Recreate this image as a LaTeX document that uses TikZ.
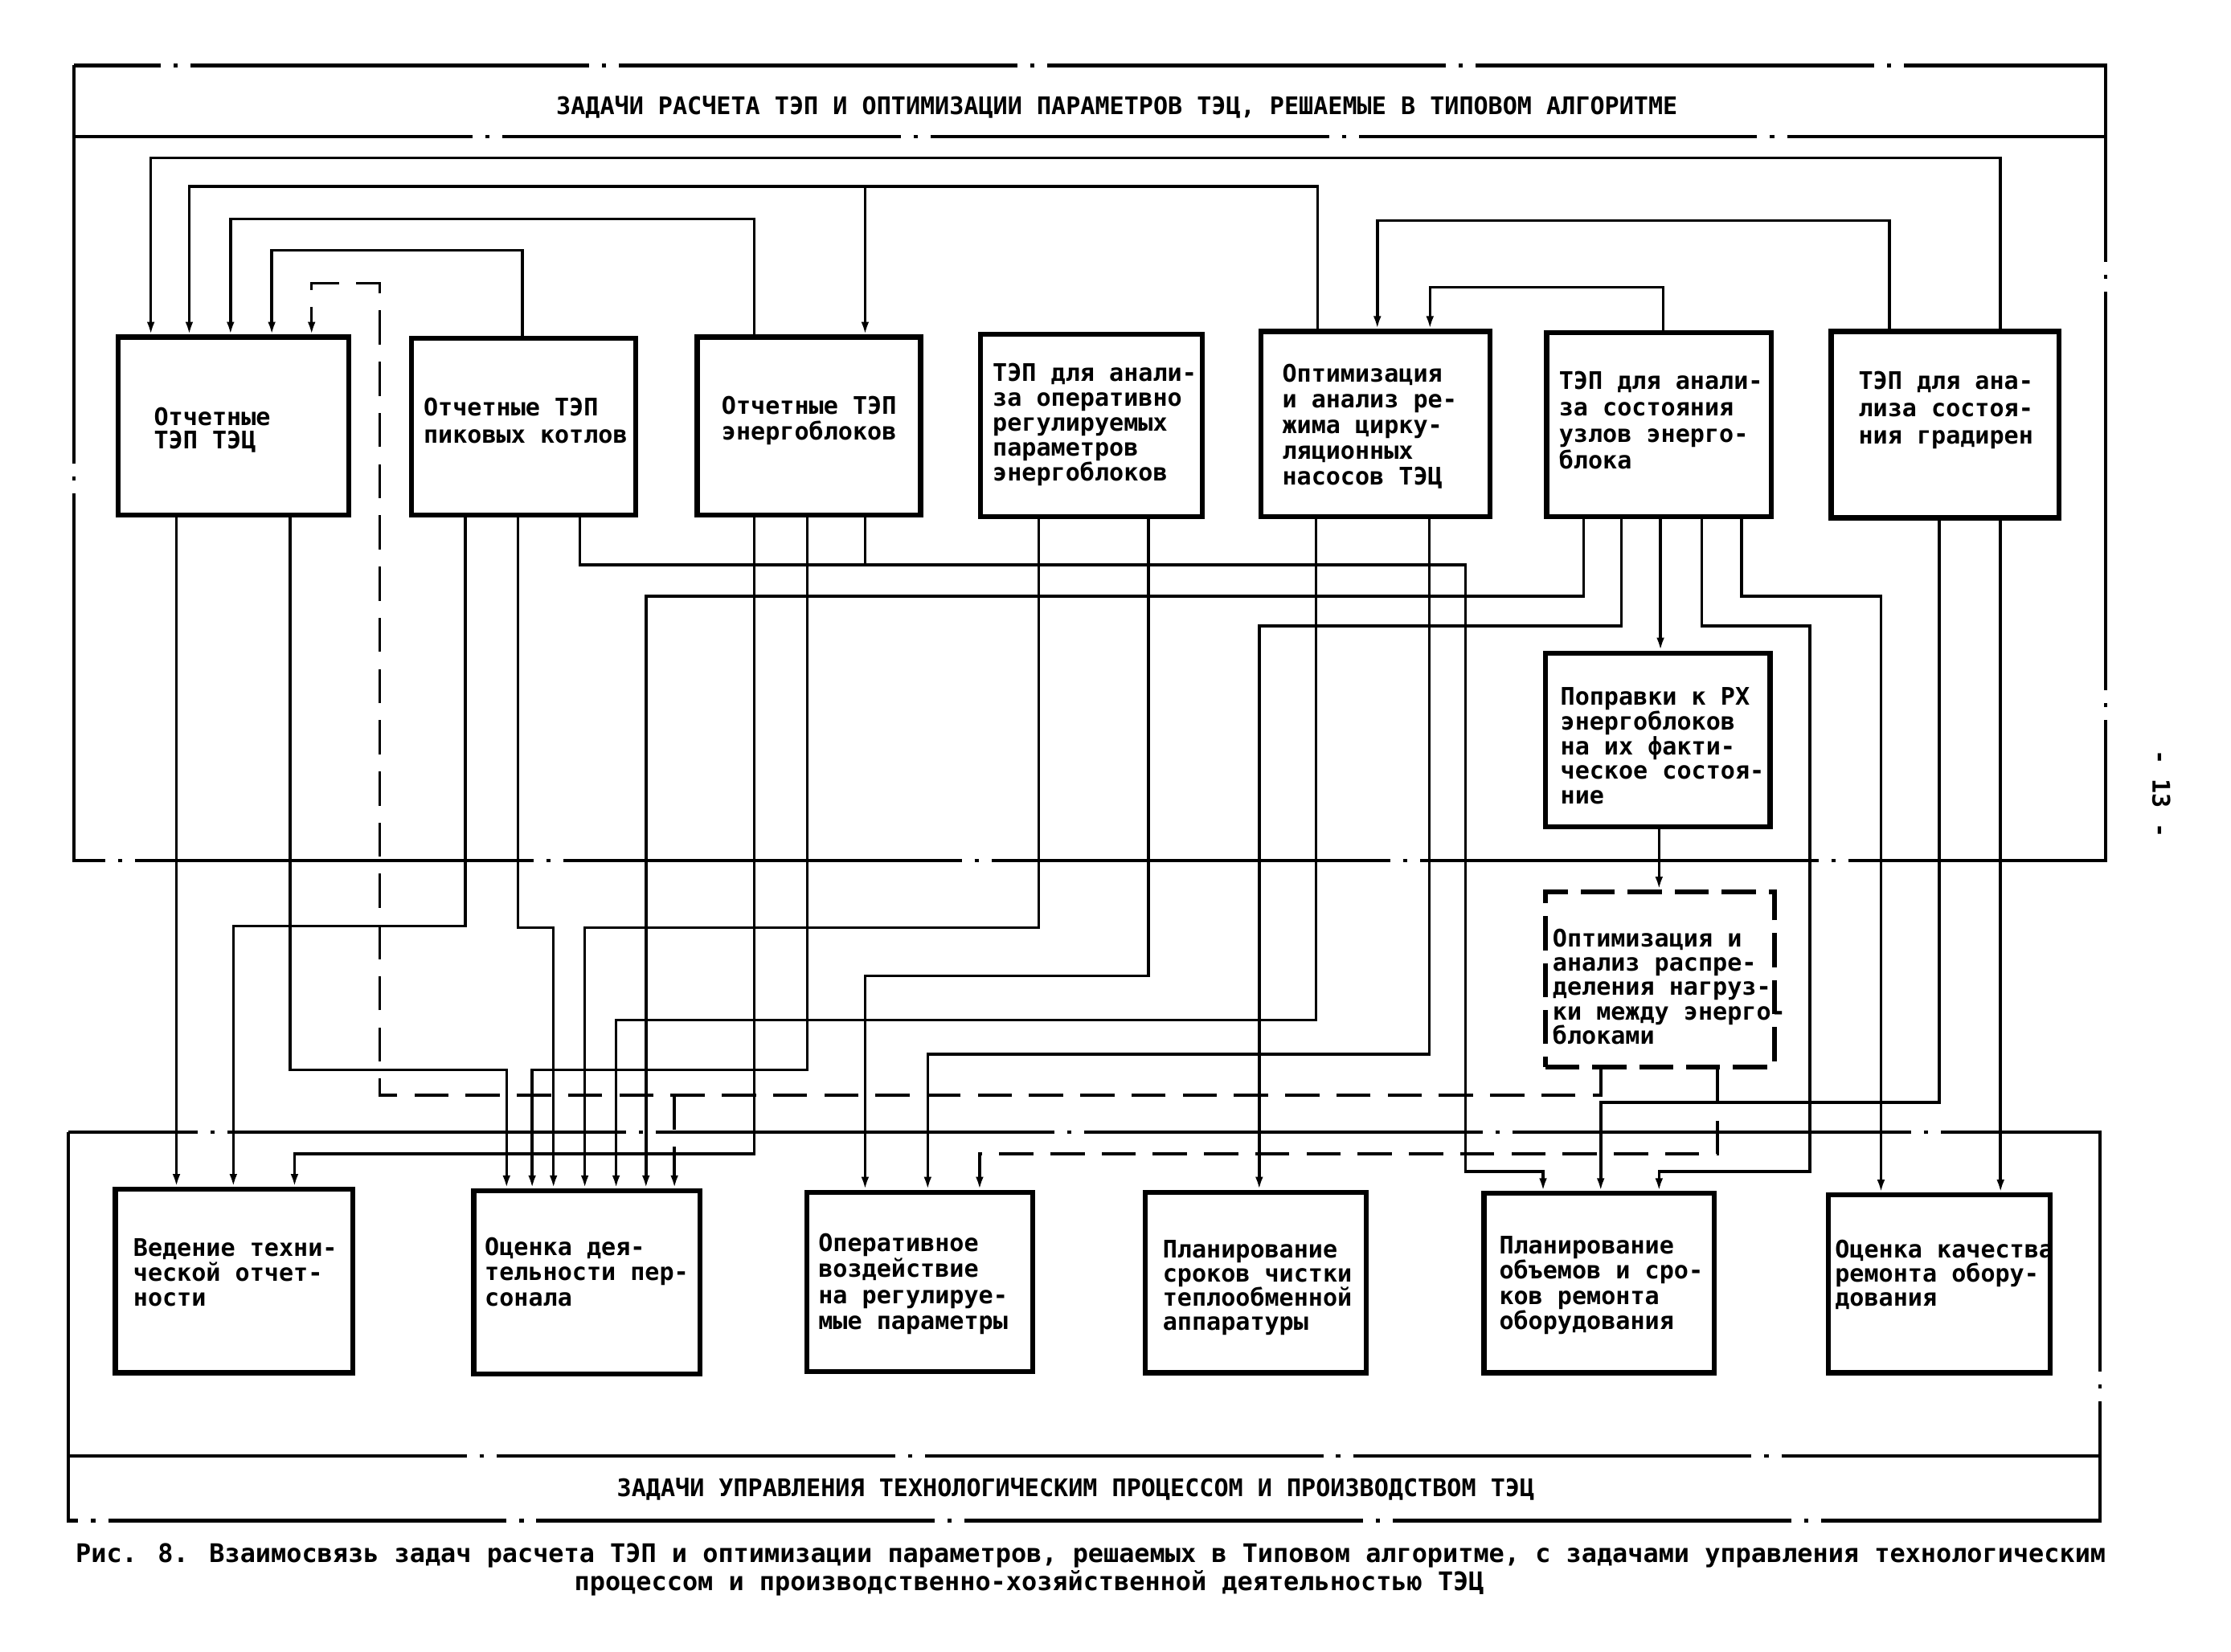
\documentclass[tikz,border=0pt]{standalone}
\usepackage{fontspec}
\newfontfamily\tw{DejaVu Sans Mono}
\usetikzlibrary{arrows.meta}
\begin{document}
\begin{tikzpicture}[x=1pt,y=-1pt,
  bx/.style={draw,line width=3.5pt,inner sep=0pt},
  dbx/.style={draw,line width=3.5pt,inner sep=0pt,dash pattern=on 24pt off 9pt},
  cn/.style={line width=2pt},
  dcn/.style={line width=2pt,dash pattern=on 24pt off 12pt},
  tipd/.style={-{Latex[length=9pt,width=5.5pt]}},
  fr/.style={line width=2.4pt,dash pattern=on 280pt off 9pt on 3pt off 9pt},
  tx/.style={anchor=north west,inner sep=0pt,align=left,font=\tw\bfseries\fontsize{17}{#1}\selectfont},
  tx/.default=17.5,
  ttl/.style={inner sep=0pt,font=\tw\bfseries\fontsize{17}{17}\selectfont},
  captx/.style={anchor=west,inner sep=0pt,font=\tw\bfseries\fontsize{18}{18}\selectfont}]
\useasboundingbox (0,0) rectangle (1568,1161);

% frames
\draw[fr] (52,46) rectangle (1480,605);
\draw[fr] (52,96) -- (1480,96);
\draw[fr] (48,796) rectangle (1476,1069);
\draw[fr] (48,1023.5) -- (1476,1023.5);
\node[ttl] (title1) at (785,75.5) {ЗАДАЧИ РАСЧЕТА ТЭП И ОПТИМИЗАЦИИ ПАРАМЕТРОВ ТЭЦ, РЕШАЕМЫЕ В ТИПОВОМ АЛГОРИТМЕ};
\node[ttl] (title2) at (756,1047) {ЗАДАЧИ УПРАВЛЕНИЯ ТЕХНОЛОГИЧЕСКИМ ПРОЦЕССОМ И ПРОИЗВОДСТВОМ ТЭЦ};

% boxes
\node[bx,minimum width=162pt,minimum height=125pt] (b1) at (164,299.5) {};
\node[bx,minimum width=158pt,minimum height=124pt] (b2) at (368,300) {};
\node[bx,minimum width=157pt,minimum height=125pt] (b3) at (568.5,299.5) {};
\node[bx,minimum width=156pt,minimum height=128pt] (b4) at (767,299) {};
\node[bx,minimum width=161pt,minimum height=130pt] (b5) at (966.5,298) {};
\node[bx,minimum width=158pt,minimum height=129pt] (b6) at (1166,298.5) {};
\node[bx,minimum width=160pt,minimum height=131pt] (b7) at (1367,298.5) {};
\node[bx,minimum width=158pt,minimum height=122pt] (b8) at (1165,520) {};
\node[dbx,minimum width=161pt,minimum height=123pt] (b9) at (1166.5,688.5) {};
\node[bx,minimum width=167pt,minimum height=129pt] (b10) at (164.5,900.5) {};
\node[bx,minimum width=159pt,minimum height=129pt] (b11) at (412.5,901.5) {};
\node[bx,minimum width=159pt,minimum height=126pt] (b12) at (646.5,901) {};
\node[bx,minimum width=155pt,minimum height=127pt] (b13) at (882.5,901.5) {};
\node[bx,minimum width=162pt,minimum height=126pt] (b14) at (1124,902) {};
\node[bx,minimum width=156pt,minimum height=125pt] (b15) at (1363,902.5) {};

% texts
\node[tx=16.5] (t1) at (108,286) {Отчетные\\ТЭП ТЭЦ};
\node[tx=19] (t2) at (297.5,279.5) {Отчетные ТЭП\\пиковых котлов};
\node[tx=18] (t3) at (507,278.5) {Отчетные ТЭП\\энергоблоков};
\node[tx=17.6] (t4) at (697.5,255) {ТЭП для анали-\\за оперативно\\регулируемых\\параметров\\энергоблоков};
\node[tx=18] (t5) at (901,256) {Оптимизация\\и анализ ре-\\жима цирку-\\ляционных\\насосов ТЭЦ};
\node[tx=18.5] (t6) at (1095.5,261) {ТЭП для анали-\\за состояния\\узлов энерго-\\блока};
\node[tx=19] (t7) at (1306,261) {ТЭП для ана-\\лиза состоя-\\ния градирен};
\node[tx=17.4] (t8) at (1096.5,483) {Поправки к РХ\\энергоблоков\\на их факти-\\ческое состоя-\\ние};
\node[tx=17] (t9) at (1091,653) {Оптимизация и\\анализ распре-\\деления нагруз-\\ки между энерго-\\блоками};
\node[tx=17.5] (t10) at (93.5,870.5) {Ведение техни-\\ческой отчет-\\ности};
\node[tx=18] (t11) at (340.5,869.5) {Оценка дея-\\тельности пер-\\сонала};
\node[tx=18.2] (t12) at (575,867) {Оперативное\\воздействие\\на регулируе-\\мые параметры};
\node[tx=17] (t13) at (817,871.5) {Планирование\\сроков чистки\\теплообменной\\аппаратуры};
\node[tx=17.6] (t14) at (1053.5,869) {Планирование\\объемов и сро-\\ков ремонта\\оборудования};
\node[tx=17] (t15) at (1289.5,871.5) {Оценка качества\\ремонта обору-\\дования};

% junctions
\coordinate (j1) at (608,131);
\coordinate (j2) at (474,770);
\coordinate (j3) at (608,397);

% connectors above the top boxes
\draw[cn,tipd] (b7.north -| 1406,0) |- (106,111) -- (b1.north -| 106,0);
\draw[cn,tipd] (b5.north -| 926,0) |- (133,131) -- (b1.north -| 133,0);
\draw[cn,tipd] (j1) -- (b3.north -| 608,0);
\draw[cn,tipd] (b3.north -| 530,0) |- (162,154) -- (b1.north -| 162,0);
\draw[cn,tipd] (b2.north -| 367,0) |- (191,176) -- (b1.north -| 191,0);
\draw[cn,tipd] (b7.north -| 1328,0) |- (968,155) -- (b5.north -| 968,0);
\draw[cn,tipd] (b6.north -| 1169,0) |- (1005,202) -- (b5.north -| 1005,0);
\draw[dcn,tipd] (b9.south -| 1125,0) |- (267,770) |- (219,199) -- (b1.north -| 219,0);
\draw[dcn,tipd] (j2) -- (b11.north -| 474,0);

% connectors below the top boxes
\draw[cn,tipd] (b1.south -| 124,0) -- (b10.north -| 124,0);
\draw[cn,tipd] (b1.south -| 204,0) |- (356,752) -- (b11.north -| 356,0);
\draw[cn,tipd] (b2.south -| 327,0) |- (164,651) -- (b10.north -| 164,0);
\draw[cn,tipd] (b2.south -| 364,0) |- (389,652) -- (b11.north -| 389,0);
\draw[cn,tipd] (b2.south -| 407.5,0) |- (1030,397) |- (1084.5,823.5) -- (b14.north -| 1084.5,0);
\draw[cn] (b3.south -| 608,0) -- (j3);
\draw[cn,tipd] (b3.south -| 530,0) |- (207,811) -- (b10.north -| 207,0);
\draw[cn,tipd] (b3.south -| 567.5,0) |- (374,752) -- (b11.north -| 374,0);
\draw[cn,tipd] (b4.south -| 730,0) |- (411,652) -- (b11.north -| 411,0);
\draw[cn,tipd] (b4.south -| 807,0) |- (608,686) -- (b12.north -| 608,0);
\draw[cn,tipd] (b5.south -| 925,0) |- (433,717) -- (b11.north -| 433,0);
\draw[cn,tipd] (b5.south -| 1004.5,0) |- (652,741) -- (b12.north -| 652,0);
\draw[cn,tipd] (b6.south -| 1113,0) |- (454,419) -- (b11.north -| 454,0);
\draw[cn,tipd] (b6.south -| 1139.5,0) |- (885,440) -- (b13.north -| 885,0);
\draw[cn,tipd] (b6.south -| 1167,0) -- (b8.north -| 1167,0);
\draw[cn,tipd] (b6.south -| 1196,0) |- (1272,440) |- (1166,823.5) -- (b14.north -| 1166,0);
\draw[cn,tipd] (b6.south -| 1224,0) |- (1322,419) -- (b15.north -| 1322,0);
\draw[cn,tipd] (b7.south -| 1363,0) |- (1125,775) -- (b14.north -| 1125,0);
\draw[cn,tipd] (b7.south -| 1406,0) -- (b15.north -| 1406,0);
\draw[cn,tipd] (b8.south -| 1166,0) -- (b9.north -| 1166,0);
\draw[dcn,tipd] (b9.south -| 1207,0) |- (688.5,811) -- (b12.north -| 688.5,0);

% caption and page number
\node[captx] (cap1) at (53,1093.5) {Рис. 8. Взаимосвязь задач расчета ТЭП и оптимизации параметров, решаемых в Типовом алгоритме, с задачами управления технологическим};
\node[captx] (cap2) at (403.5,1113) {процессом и производственно-хозяйственной деятельностью ТЭЦ};
\node[ttl,rotate=-90] (pg) at (1519,558) {- 13 -};
\end{tikzpicture}
\end{document}
